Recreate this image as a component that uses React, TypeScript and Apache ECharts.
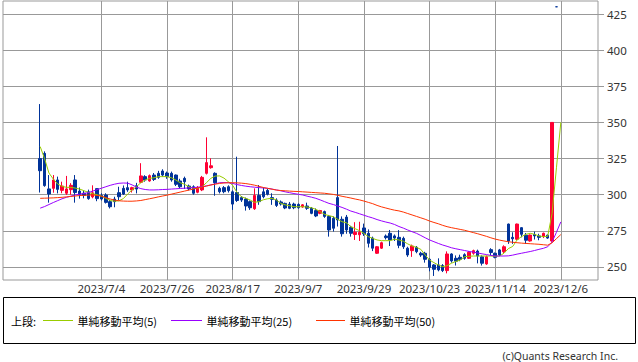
import React, { useEffect, useRef } from "react";
import * as echarts from "echarts";

// ---- categories (Japanese trading days 2023/6/14 .. 2023/12/6) ----
const HOLIDAYS = ["2023-07-17", "2023-08-11", "2023-09-18", "2023-10-09", "2023-11-03", "2023-11-23"];
function buildDates(): string[] {
  const out: string[] = [];
  const d = new Date(Date.UTC(2023, 5, 14));
  const end = Date.UTC(2023, 11, 6);
  while (d.getTime() <= end) {
    const wd = d.getUTCDay();
    const iso = d.toISOString().slice(0, 10);
    if (wd !== 0 && wd !== 6 && HOLIDAYS.indexOf(iso) < 0) {
      out.push(`${d.getUTCFullYear()}/${d.getUTCMonth() + 1}/${d.getUTCDate()}`);
    }
    d.setUTCDate(d.getUTCDate() + 1);
  }
  return out;
}
const DATES = buildDates();

const TICK_LABELS = ["2023/7/4", "2023/7/26", "2023/8/17", "2023/9/7", "2023/9/29", "2023/10/23", "2023/11/14", "2023/12/6"];
const Y_TICKS = [250, 275, 300, 325, 350, 375, 400, 425];
const Y_MIN = 241;
const Y_MAX = 434;

// ---- candles: [open, close, low, high] ----
const CANDLES: (number[] | null)[] = [
  [325, 316.6, 301.5, 362.7], [328.6, 306.3, 305.5, 330], [304, 300.5, 294.5, 313.6], [304.4, 310.2, 301.4, 313.6],
  [310.2, 303.7, 300.9, 312.5], [303, 306, 301, 309], [301, 304, 299.8, 313], [303.5, 306.5, 300, 308],
  [310.2, 301.5, 294.5, 313.6], [302.5, 300.3, 297.3, 305], [301, 299.5, 297.5, 303], [302, 297.3, 296.5, 303.5],
  [298.5, 301.3, 297.5, 306.5], [304.2, 297.3, 295.5, 304.5], [299.5, 297, 296, 301], [299.8, 294.7, 293.9, 301],
  [295.2, 291.7, 290.5, 296.5], [297, 295.2, 291.3, 298.6], [301.4, 298.6, 296.3, 305.5], [304.4, 300.5, 299.8, 306.4],
  [304.9, 303.3, 302, 309], [303.3, 304.9, 301.5, 305.5], [306.2, 303.9, 300.9, 308.2], [308.6, 313, 308, 321.8],
  [312.5, 310.2, 309, 313.5], [309.5, 313.2, 309, 314], [313.6, 310.6, 309.5, 315], [314.8, 312, 311, 316.5],
  [316.4, 313.6, 312.5, 317.6], [315, 312.5, 311, 316], [314.8, 310.2, 309, 316], [313.6, 307.2, 306, 314],
  [309.5, 305.5, 304.5, 311], [311.3, 309, 304, 312.5], [306, 304, 303, 307], [305.5, 301, 300, 306.5],
  [301.7, 304.9, 301, 306], [303.3, 312, 302.5, 313], [314.8, 322.2, 314, 339.7], [318.7, 320, 318, 325.2],
  [314.8, 308.3, 299.3, 315.5], [304.4, 302.1, 300.9, 305.5], [304.9, 302.1, 301, 306], [305.5, 302.8, 301.5, 306.5],
  [302, 293.5, 289.5, 303], [301.5, 296, 295, 326.3], [298, 296.3, 295, 299], [297, 292.2, 289, 298],
  [295.2, 291, 289.5, 296], [290.3, 299.5, 289.5, 304.4], [299.5, 295.2, 293, 306.7], [302, 298.6, 297.5, 305],
  [303, 300.3, 299.5, 304], [298, 296.8, 293, 301], [296.3, 292.6, 291.5, 297.5], [295, 293.6, 292.5, 296],
  [294, 290.8, 290, 294.5], [293.5, 290.6, 290, 295], [293.5, 291, 290, 294.5], [293.3, 291, 290.3, 294],
  [291.5, 293, 291, 293.5], [292.2, 290.6, 289.5, 294.5], [290.6, 287.1, 286.5, 291.5], [289, 285.3, 284.5, 290.5],
  [287.1, 289, 286.5, 289.5], [288.3, 285, 284, 289], [285, 275.6, 271, 286], [283.7, 276.8, 274.5, 285],
  [298, 282.5, 278, 333.7], [283, 273, 271, 285], [284.5, 275.6, 273, 286], [277.5, 273.3, 271, 278.5],
  [272.5, 274, 268.7, 281], [272.3, 274, 268, 281.3], [277, 273, 271.5, 280], [273.3, 266.4, 263.5, 276],
  [270, 263, 261, 271], [259.5, 264, 259, 264.5], [263, 266.8, 262.5, 267.5], [271.4, 270.3, 269, 272.5],
  [273.3, 268.7, 264.5, 275.6], [271.5, 270, 268, 272.5], [270.5, 265, 263, 275.5], [269.8, 264, 262.5, 271],
  [263, 258.3, 257, 264], [261.3, 264.5, 257, 265.5], [263.6, 260.6, 259.5, 264.5], [259.5, 258.3, 257, 260.5],
  [259.5, 255.3, 253, 260.5], [255.3, 249.8, 247, 256], [251.4, 248.4, 243.8, 252], [251.4, 248, 247, 256],
  [251, 247.5, 246.5, 252], [247.5, 259, 245.6, 260.8], [259, 254.2, 253, 259.5], [256, 254, 251, 258],
  [256.7, 255.3, 254, 258.5], [258.5, 256, 255, 259.5], [256, 260.2, 255.5, 261], [259.5, 261.3, 258.5, 262],
  [261, 257.6, 252.5, 262], [257, 252.6, 251, 258], [252.1, 257.1, 251.5, 258], [262, 260, 258, 263],
  [259.5, 256.7, 256, 260], [261.8, 258.3, 257.5, 262.5], [260.6, 264, 259.5, 265], [279.7, 268, 266, 280],
  [270.5, 269.5, 266, 274], [269.2, 279.7, 268.5, 280], [277.2, 272.6, 270.5, 277.5], [272, 268.5, 266, 273.5],
  [268, 272.1, 267.5, 272.5], [272.5, 271.5, 269, 274.5], [271.5, 270.5, 268.5, 273], [271, 273.3, 270, 273.8],
  [272, 270, 269.5, 272.5], [268, 350, 267.5, 350], [430, 430, 430, 430], null,
];

// ---- moving averages ----
const MA5 = [
  333.3, 325, 315, 310.8, 307.4, 305.8, 305.1, 305.1, 304.6, 303.9, 302.8, 301.6, 300.7, 300, 299, 297.5, 296, 295.5, 295.8, 297.3,
  300.5, 303.3, 305.5, 308.3, 310.2, 311.3, 311.7, 312.5, 312.5, 312.5, 311.7, 310.2, 308.3, 307.2, 305.5, 304.4, 304.4, 305.5, 308.3, 311.3,
  312.9, 313, 311.5, 309, 306.5, 301.5, 298.6, 297.5, 296.3, 294.7, 295.2, 296.5, 297.2, 297.5, 296.3, 294, 293, 292.4, 291.7, 291.7,
  291.7, 291.5, 291, 289.9, 288.3, 286.4, 285.5, 284.8, 283, 281.3, 280.6, 277.9, 276.5, 275.1, 273.3, 271, 269.8, 268.7, 268.2, 268.2,
  268.2, 269.2, 268.7, 267.8, 266, 264.5, 263.6, 262.2, 258.3, 254.8, 253, 251.4, 250.2, 250.9, 252.6, 253.8, 254.8, 257.1, 257.4, 257.6,
  257.6, 257.6, 257.6, 257.6, 257.4, 257.6, 259.5, 262.7, 264.2, 268.7, 271, 272.6, 273.3, 272.6, 271.5, 271, 271.2, 287, 318.6, 350,
];
const MA25 = [
  290.7, 291.8, 293.2, 294.6, 295.9, 297.2, 298.2, 299, 299.8, 300.4, 300.9, 301.4, 302.5, 303.5, 304.5, 305.5, 306.5, 307.3, 307.9, 308.1,
  308, 306.8, 305.3, 304.2, 303.6, 303.3, 303.3, 303.4, 303.6, 303.7, 303.9, 304.1, 304.3, 304.5, 304.7, 304.9, 305.2, 305.6, 306.1, 306.8,
  307.5, 308.3, 308.4, 308.3, 307.8, 307, 306.4, 305.9, 305.5, 305.2, 304.9, 304.7, 304.4, 303.9, 303.3, 302.7, 302, 301.4, 300.8, 300.3,
  299.8, 299, 298.3, 297.5, 296.4, 295.2, 294, 293.2, 292.2, 291.2, 290, 288.7, 287.8, 286.8, 285.8, 284.8, 283.9, 282.8, 281.9, 281.1,
  280.4, 279.4, 278, 276.9, 275.6, 274.4, 273.3, 271.8, 270.2, 268.7, 267.5, 266.3, 265.2, 264.3, 263.3, 262.6, 262, 261.4, 260.8, 260.3,
  259.7, 259.1, 258.6, 258, 257.6, 257.6, 257.6, 257.7, 258.2, 258.9, 259.5, 260.1, 260.7, 261.4, 262.2, 262.9, 264, 267.3, 274, 281.2,
];
const MA50 = [
  297.5, 297.6, 297.7, 297.8, 298, 298.2, 298.5, 298.8, 299.1, 299.4, 299.6, 299.7, 299.8, 299.5, 299, 298, 297, 296.3, 295.8, 295.6,
  295.5, 295.5, 295.7, 296, 296.6, 297.2, 297.8, 298.5, 299.1, 299.7, 300.4, 301.1, 301.8, 302.5, 303.2, 303.9, 304.6, 305.3, 306, 306.7,
  307.3, 307.8, 308.1, 308.3, 308.3, 308.2, 308, 307.7, 307.2, 306.6, 305.8, 305, 304.4, 303.8, 303.2, 302.9, 302.7, 302.5, 302.3, 302.2,
  302, 301.8, 301.6, 301.4, 301.2, 301, 300.6, 300.2, 299.6, 298.9, 298.3, 297.7, 297, 296.4, 295.6, 294.7, 293.8, 292.6, 291.6, 290.8,
  290, 289.3, 288.8, 288, 287, 286, 285, 284, 283, 281.8, 280.8, 279.9, 278.8, 277.9, 277.2, 276.6, 276, 275.4, 274.6, 273.8,
  273, 272.1, 271.2, 270.2, 269.3, 268.6, 268, 267.5, 267.1, 266.8, 266.5, 266.3, 266.1, 265.9, 265.7, 265.4, 265.1, 266.7, 269.6, 272.4,
];

const LEGEND_NAMES = ["単純移動平均(5)", "単純移動平均(25)", "単純移動平均(50)"];

// ---- styling / layout ----
const UP = "#ff0033";
const DOWN = "#003399";
const C_MA5 = "#99cc00";
const C_MA25 = "#9900ff";
const C_MA50 = "#ff3300";
const GRID_C = "#999999";
const PAD = 8; // empty bands on each side of the data
const FONT = "'Noto Sans', 'Noto Sans CJK JP', sans-serif";
const JFONT = "'Noto Sans CJK JP', sans-serif";

export default function App() {
  const ref = useRef<HTMLDivElement>(null);
  useEffect(() => {
    if (!ref.current) return;
    const chart = echarts.init(ref.current, undefined, { renderer: "svg" });

    const nBands = DATES.length + 2 * PAD;
    const mainCats: string[] = [];
    for (let j = 0; j < nBands; j++) {
      const i = j - PAD;
      mainCats.push(i >= 0 && i < DATES.length ? DATES[i] : `pad${j}`);
    }
    const pad = (arr: any[]) => [
      ...new Array(PAD).fill("-"),
      ...arr.map((v) => (v == null ? "-" : v)),
      ...new Array(nBands - PAD - arr.length).fill("-"),
    ];

    // fine category axis whose ticks fall on band centres (boundaryGap false)
    const fineCount = 2 * nBands + 1;
    const fineCats: string[] = [];
    const labelAt: Record<number, string> = {};
    TICK_LABELS.forEach((lbl) => {
      const i = DATES.indexOf(lbl);
      if (i >= 0) labelAt[2 * (i + PAD) + 1] = lbl;
    });
    for (let k = 0; k < fineCount; k++) fineCats.push(String(k));

    const yCats: string[] = [];
    for (let v = Y_MIN; v <= Y_MAX; v++) yCats.push(String(v));
    const isYTick = (idx: number) => Y_TICKS.indexOf(Y_MIN + idx) >= 0;

    const candleData = CANDLES.map((c, i) => {
      if (!c) return "-";
      if (c[0] === c[1]) {
        return {
          value: c,
          itemStyle: { color: DOWN, color0: DOWN, borderColor: DOWN, borderColor0: DOWN, borderColorDoji: DOWN },
        };
      }
      return c;
    });

    const legendY = 320.5;
    const option: any = {
      animation: false,
      backgroundColor: "#ffffff",
      grid: {
        left: 3,
        top: 1,
        width: 595,
        height: 279,
        show: true,
        borderColor: GRID_C,
        borderWidth: 1,
        backgroundColor: "transparent",
        containLabel: false,
        outerBoundsMode: "none",
      },
      xAxis: [
        {
          type: "category",
          data: mainCats,
          boundaryGap: true,
          position: "top",
          show: false,
          axisLabel: { show: false },
          axisTick: { show: false },
          axisLine: { show: false },
          splitLine: { show: false },
        },
        {
          type: "category",
          data: fineCats,
          boundaryGap: false,
          position: "bottom",
          min: 0,
          max: fineCount - 1,
          axisLine: { show: false },
          axisTick: { show: false },
          axisLabel: {
            interval: (idx: number) => labelAt[idx] != null,
            formatter: (_v: string, idx: number) => labelAt[idx] || "",
            fontSize: 11.5,
            fontFamily: FONT,
            color: "#333333",
            margin: 3,
          },
          splitLine: {
            show: true,
            interval: (idx: number) => labelAt[idx] != null,
            lineStyle: { color: GRID_C, width: 1 },
          },
        },
      ],
      yAxis: [
        {
          type: "value",
          min: Y_MIN,
          max: Y_MAX,
          position: "left",
          show: false,
          splitLine: { show: false },
        },
        {
          type: "category",
          data: yCats,
          boundaryGap: false,
          position: "right",
          min: 0,
          max: yCats.length - 1,
          axisLine: { show: false },
          axisTick: {
            show: true,
            length: 6,
            interval: (idx: number) => isYTick(idx),
            lineStyle: { color: GRID_C, width: 1 },
          },
          axisLabel: {
            interval: (idx: number) => isYTick(idx),
            fontSize: 11.5,
            fontFamily: FONT,
            color: "#333333",
            margin: 9,
          },
          splitLine: {
            show: true,
            interval: (idx: number) => isYTick(idx),
            lineStyle: { color: GRID_C, width: 1 },
          },
        },
      ],
      series: [
        {
          type: "candlestick",
          xAxisIndex: 0,
          yAxisIndex: 0,
          barWidth: 3,
          data: pad(candleData),
          itemStyle: {
            color: UP,
            color0: DOWN,
            borderColor: UP,
            borderColor0: DOWN,
            borderWidth: 1,
          },
          z: 3,
        },
        {
          type: "line",
          name: LEGEND_NAMES[0],
          xAxisIndex: 0,
          yAxisIndex: 0,
          data: pad(MA5),
          symbol: "none",
          showSymbol: false,
          lineStyle: { color: C_MA5, width: 1 },
          itemStyle: { color: C_MA5 },
          z: 4,
        },
        {
          type: "line",
          name: LEGEND_NAMES[1],
          xAxisIndex: 0,
          yAxisIndex: 0,
          data: pad(MA25),
          symbol: "none",
          showSymbol: false,
          lineStyle: { color: C_MA25, width: 1 },
          itemStyle: { color: C_MA25 },
          z: 4,
        },
        {
          type: "line",
          name: LEGEND_NAMES[2],
          xAxisIndex: 0,
          yAxisIndex: 0,
          data: pad(MA50),
          symbol: "none",
          showSymbol: false,
          lineStyle: { color: C_MA50, width: 1 },
          itemStyle: { color: C_MA50 },
          z: 4,
        },
      ],
      graphic: [
        {
          type: "rect",
          silent: true,
          shape: { x: 3.5, y: 297.5, width: 632, height: 46 },
          style: { fill: "#ffffff", stroke: "#000000", lineWidth: 1 },
        },
        {
          type: "text",
          silent: true,
          x: 11,
          y: legendY,
          style: { text: "上段:", fontSize: 11, fontFamily: JFONT, fill: "#000000", align: "left", verticalAlign: "middle" },
        },
        {
          type: "line",
          silent: true,
          shape: { x1: 43, y1: legendY, x2: 73, y2: legendY },
          style: { stroke: C_MA5, lineWidth: 1 },
        },
        {
          type: "text",
          silent: true,
          x: 77.5,
          y: legendY,
          style: { text: LEGEND_NAMES[0], fontSize: 11, fontFamily: JFONT, fill: "#000000", align: "left", verticalAlign: "middle" },
        },
        {
          type: "line",
          silent: true,
          shape: { x1: 171, y1: legendY, x2: 202, y2: legendY },
          style: { stroke: C_MA25, lineWidth: 1 },
        },
        {
          type: "text",
          silent: true,
          x: 206.5,
          y: legendY,
          style: { text: LEGEND_NAMES[1], fontSize: 11, fontFamily: JFONT, fill: "#000000", align: "left", verticalAlign: "middle" },
        },
        {
          type: "line",
          silent: true,
          shape: { x1: 316, y1: legendY, x2: 345, y2: legendY },
          style: { stroke: C_MA50, lineWidth: 1 },
        },
        {
          type: "text",
          silent: true,
          x: 349.5,
          y: legendY,
          style: { text: LEGEND_NAMES[2], fontSize: 11, fontFamily: JFONT, fill: "#000000", align: "left", verticalAlign: "middle" },
        },
        {
          type: "text",
          silent: true,
          x: 618,
          y: 356,
          style: {
            text: "(c)Quants Research Inc.",
            fontSize: 10.5,
            fontFamily: FONT,
            fill: "#333333",
            align: "right",
            verticalAlign: "middle",
          },
        },
      ],
    };

    chart.setOption(option);
    return () => chart.dispose();
  }, []);

  return (
    <div
      ref={ref}
      style={{ position: "fixed", left: 0, top: 0, width: 638, height: 362, background: "#ffffff" }}
    />
  );
}
